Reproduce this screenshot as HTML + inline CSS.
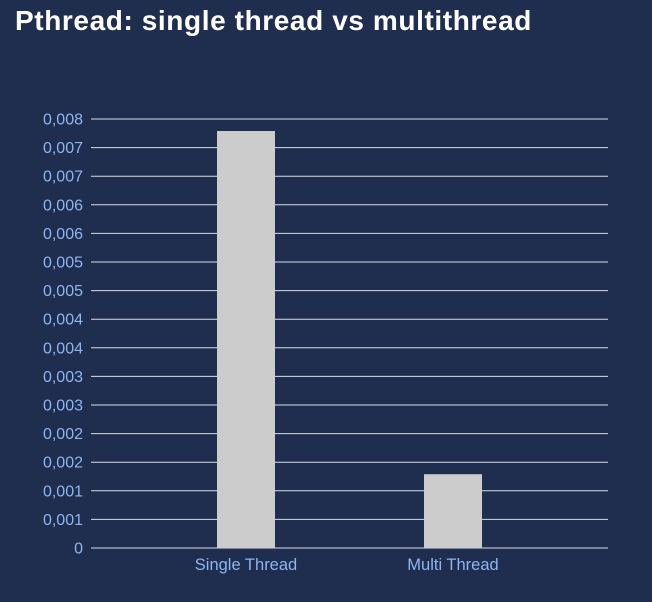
<!DOCTYPE html>
<html><head><meta charset="utf-8"><style>
html,body{margin:0;padding:0;background:#1f2e4e;}
#wrap{width:652px;height:602px;position:relative;overflow:hidden;background:#1f2e4e;}
h1{position:absolute;left:15px;top:5px;margin:0;font:bold 28px "Liberation Sans",sans-serif;color:#fff;letter-spacing:0.6px;white-space:nowrap;}
</style></head><body>
<div id="wrap">
<h1>Pthread: single thread vs multithread</h1>
<svg id="chart" width="652" height="602" style="position:absolute;left:0;top:0"></svg>
</div>
<script>
const categories = ["Single Thread", "Multi Thread"];
const values = [0.00729, 0.00129];
const tickValues = [0,0.0005,0.001,0.0015,0.002,0.0025,0.003,0.0035,0.004,0.0045,0.005,0.0055,0.006,0.0065,0.007,0.0075];
const tickLabels = ["0","0,001","0,001","0,002","0,002","0,003","0,003","0,004","0,004","0,005","0,005","0,006","0,006","0,007","0,007","0,008"];

const svg = document.getElementById('chart');
const NS = 'http://www.w3.org/2000/svg';
const yMax = 0.0075, yTop = 119, yBot = 548;
const xL = 91, xR = 608;
const bandStart = 142.5, bandW = 207, barW = 58;
function y(v){ return yBot - v / yMax * (yBot - yTop); }
function xc(i){ return bandStart + bandW * (i + 0.5); }
function mk(tag, attrs){ const e = document.createElementNS(NS, tag); for (const k in attrs) e.setAttribute(k, attrs[k]); svg.appendChild(e); return e; }

tickValues.forEach((v, i) => {
  const l = mk('line', {x1:xL, x2:xR, y1:y(v), y2:y(v), stroke:'#d8dce4', 'stroke-width':1});
  
  
  const t = mk('text', {x:83, y:y(v)+5.5, 'text-anchor':'end', fill:'#8fb4f0', 'font-size':16, 'font-family':'Liberation Sans, sans-serif'});
  t.textContent = tickLabels[i];
  
  
});

categories.forEach((c, i) => {
  const b = mk('rect', {x:xc(i)-barW/2, y:y(values[i]), width:barW, height:yBot - y(values[i]), fill:'#cccccc'});
  
  
  const t = mk('text', {x:xc(i), y:570, 'text-anchor':'middle', fill:'#8fb4f0', 'font-size':16.5, 'font-family':'Liberation Sans, sans-serif'});
  t.textContent = c;
  
  
});
</script>
</body></html>
